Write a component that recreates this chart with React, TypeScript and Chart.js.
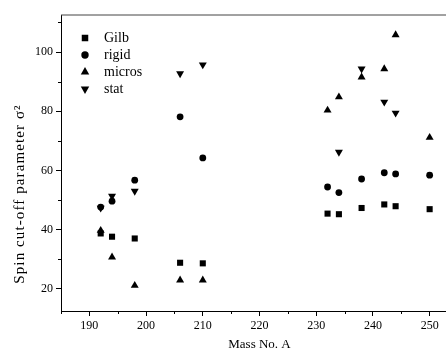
import React, { useEffect, useRef } from 'react';
import { Chart, registerables } from 'chart.js';
import { drawPoint } from 'chart.js/helpers';

Chart.register(...registerables);

const massNumbers = [192, 194, 198, 206, 210, 232, 234, 238, 242, 244, 250];
const gilb = [38.7, 37.6, 37.0, 28.8, 28.6, 45.4, 45.2, 47.3, 48.5, 47.9, 46.9];
const rigid = [47.6, 49.6, 56.7, 78.1, 64.2, 54.4, 52.5, 57.1, 59.2, 58.8, 58.4];
const micros = [39.7, 30.7, 21.1, 22.9, 22.9, 80.3, 84.8, 91.5, 94.3, 105.8, 71.1];
const stat = [47.3, 51.3, 53.0, 92.7, 95.7, null, 66.2, 94.3, 83.1, 79.4, null];

const xTickValues = [190, 200, 210, 220, 230, 240, 250];
const xMinorValues = [185, 195, 205, 215, 225, 235, 245];
const yTickValues = [20, 40, 60, 80, 100];
const yMinorValues = [30, 50, 70, 90, 110];

const seriesNames = ['Gilb', 'rigid', 'micros', 'stat'];
const FONT = '"Liberation Serif", "Times New Roman", serif';

const markers = [
  { pointStyle: 'rect', radius: 4.3, rotation: 0 },
  { pointStyle: 'circle', radius: 3.4, rotation: 0 },
  { pointStyle: 'triangle', radius: 4.6, rotation: 0 },
  { pointStyle: 'triangle', radius: 4.6, rotation: 180 },
];

const toPoints = (ys: (number | null)[]) =>
  massNumbers.map((x, i) => ({ x, y: ys[i] })).filter((p) => p.y !== null);

export default function App() {
  const ref = useRef<HTMLCanvasElement | null>(null);

  useEffect(() => {
    document.body.style.margin = '0';
    const canvas = ref.current;
    if (!canvas) return;

    const extras = {
      id: 'extras',
      afterDraw(chart: any) {
        const ctx = chart.ctx;
        const area = chart.chartArea;
        const xs = chart.scales.x;
        const ys = chart.scales.y;
        ctx.save();
        // top frame line
        ctx.strokeStyle = '#444';
        ctx.lineWidth = 1;
        ctx.beginPath();
        ctx.moveTo(area.left, area.top);
        ctx.lineTo(area.right, area.top);
        ctx.stroke();
        // minor ticks
        ctx.strokeStyle = '#000';
        ctx.beginPath();
        xMinorValues.forEach((v) => {
          const px = Math.round(xs.getPixelForValue(v)) + 0.5;
          ctx.moveTo(px, area.bottom);
          ctx.lineTo(px, area.bottom + 3);
        });
        yMinorValues.forEach((v) => {
          const py = Math.round(ys.getPixelForValue(v)) + 0.5;
          ctx.moveTo(area.left, py);
          ctx.lineTo(area.left - 3, py);
        });
        ctx.stroke();
        // legend
        ctx.fillStyle = '#000';
        ctx.font = `14px ${FONT}`;
        ctx.textBaseline = 'middle';
        ctx.textAlign = 'left';
        seriesNames.forEach((name, i) => {
          const y = 38 + i * 17;
          const m = markers[i];
          ctx.fillStyle = '#000';
          ctx.strokeStyle = '#000';
          drawPoint(ctx, { pointStyle: m.pointStyle, radius: m.radius + 0.3, rotation: m.rotation, borderWidth: 0 } as any, 85, y);
          ctx.fillStyle = '#000';
          ctx.fillText(name, 104, y);
        });
        // axis titles
        ctx.font = `13px ${FONT}`;
        ctx.textAlign = 'center';
        ctx.textBaseline = 'middle';
        ctx.fillText('Mass No. A', (area.left + area.right) / 2, 345);
        ctx.save();
        ctx.translate(20, 194);
        ctx.rotate(-Math.PI / 2);
        ctx.font = `15px ${FONT}`;
        (ctx as any).letterSpacing = '1.1px';
        ctx.fillText('Spin cut-off parameter σ²', 0, 0);
        ctx.restore();
        ctx.restore();
      },
    };

    const datasets = [gilb, rigid, micros, stat].map((vals, i) => ({
      label: seriesNames[i],
      data: toPoints(vals),
      pointStyle: markers[i].pointStyle as any,
      pointRadius: markers[i].radius,
      pointRotation: markers[i].rotation,
      pointBackgroundColor: '#000',
      pointBorderColor: '#000',
      pointBorderWidth: 0,
      showLine: false,
    }));

    const chart = new Chart(canvas, {
      type: 'scatter',
      data: { datasets },
      plugins: [extras],
      options: {
        responsive: false,
        animation: false,
        devicePixelRatio: 1,
        layout: { padding: { left: 0, top: 15, right: 12, bottom: 0 } },
        plugins: { legend: { display: false }, tooltip: { enabled: false } },
        scales: {
          x: {
            type: 'linear',
            min: 185,
            max: 255,
            bounds: 'data',
            afterBuildTicks: (s: any) => {
              s.ticks = xTickValues.map((v) => ({ value: v }));
            },
            afterFit: (s: any) => {
              s.height = 41;
            },
            grid: { drawOnChartArea: false, drawTicks: true, tickLength: 5, color: '#000' },
            border: { display: true, color: '#000', width: 1 },
            ticks: { color: '#000', font: { family: FONT, size: 12 }, padding: 3, maxRotation: 0, autoSkip: false },
          },
          y: {
            type: 'linear',
            min: 12.5,
            max: 112.5,
            bounds: 'data',
            afterBuildTicks: (s: any) => {
              s.ticks = yTickValues.map((v) => ({ value: v }));
            },
            afterFit: (s: any) => {
              s.width = 61;
            },
            grid: { drawOnChartArea: false, drawTicks: true, tickLength: 5, color: '#000' },
            border: { display: true, color: '#000', width: 1 },
            ticks: { color: '#000', font: { family: FONT, size: 12 }, padding: 3, autoSkip: false },
          },
        },
      },
    });
    return () => chart.destroy();
  }, []);

  return (
    <div style={{ width: 446, height: 352, overflow: 'hidden', background: '#fff' }}>
      <canvas ref={ref} width={470} height={352} style={{ display: 'block' }} />
    </div>
  );
}
